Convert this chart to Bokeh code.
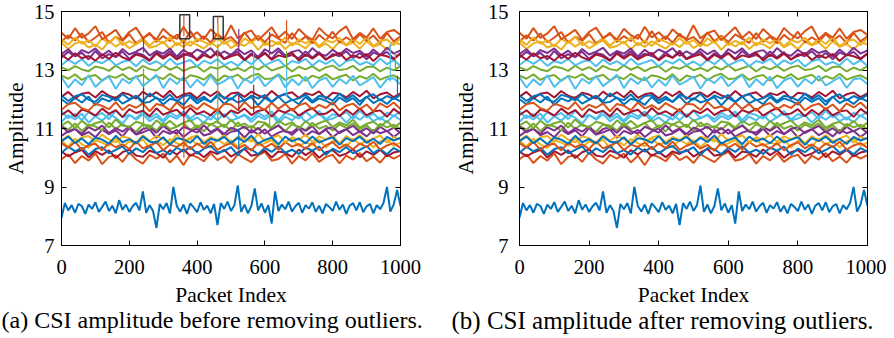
import numpy as np
from bokeh.plotting import figure
from bokeh.models import Range1d, FixedTicker, LinearAxis, Title, ColumnDataSource
from bokeh.layouts import row
from bokeh.embed import file_html
from bokeh.resources import INLINE

FONT = "Liberation Serif"

packet_ticks = [0, 200, 400, 600, 800, 1000]
amp_ticks = [7, 9, 11, 13, 15]
colors = ["#0072BD", "#D95319", "#EDB120", "#7E2F8E", "#77AC30", "#4DBEEE", "#A2142F"]

# mean amplitude of each of the 30 subcarriers
levels = [8.30, 10.00, 10.50, 10.85, 11.05, 11.35, 10.15, 10.25, 10.40, 10.65,
          10.95, 11.15, 11.45, 11.55, 11.95, 11.75, 13.85, 13.50, 12.75, 12.60,
          12.15, 12.05, 14.05, 13.95, 13.60, 13.05, 13.25, 13.45, 10.60, 14.15]

# deviations from the mean (hundredths), sampled evenly over packets 0..1000
s01 = [-35, 15, -10, 8, -18, 12, 5, -22, 10, -5,
       18, -15, 2, 20, -12, 6, -20, 25, -8, 10,
       -15, 4, 16, -10, 55, -18, 8, -12, -70, 12,
       -6, 15, -20, 70, 5, -14, 10, -22, 14, 0,
       -16, 18, -8, 6, -20, 12, -60, 15, -5, 20,
       -12, 8, 75, -15, 10, -20, 5, 65, -10, 14,
       -18, 8, -55, 55, -12, 10, -6, 20, -14, 4,
       16, -18, 8, -4, 18, -15, 6, -20, 12, 2,
       -12, 20, -8, 10, -22, 6, 15, -10, 18, -16,
       4, 12, -20, 8, -6, 16, 70, -14, 10, 60,
       5]
s02 = [-5, 12, -18, 6, -10, 15, -22, 3, 9, -14, 18, -6, -20, 10, -3, 14, -16, 7, -25, 11, 2, -12, 16, -8, 5, -18, 12, -2, -15, 8, 20, -10, -4, 13, -20, 6, -9, 15, -14, 3, 10, -19, 7, -6, 16, -12, 4, -17, 11, -3, 9]
s03 = [8, -12, 15, -4, -16, 10, 2, -9, 18, -14, 6, -2, 13, -18, 9, -7, 14, 0, -11, 17, -6, 4, -15, 12, -3, 10, -13, 7, 16, -8, -1, 11, -17, 5, 14, -10, 3, -6, 12, -15, 8, 1, -12, 15, -5, 9, -14, 6, 13, -9, 2]
s04 = [-10, 6, 14, -8, 3, -15, 11, -4, 9, -12, 16, -6, 2, 12, -17, 7, -3, 10, -14, 5, 15, -9, -2, 13, -11, 4, 8, -16, 10, -5, 12, -13, 1, 9, -7, 14, -10, 6, -4, 11, -15, 3, 13, -8, 5, -12, 10, -1, 7, -14, 4]
s05 = [4, -9, 12, -14, 8, 2, -11, 15, -6, 10, -3, -16, 9, 5, -12, 13, -7, 1, 14, -10, 6, -15, 11, -2, 8, -13, 16, -5, 3, -9, 12, -8, 7, -14, 10, 0, -11, 15, -6, 4, -12, 9, -3, 13, -10, 6, -16, 11, -1, 8, -7]
s06 = [-12, 10, -4, 16, -15, 7, -8, 13, 2, -18, 11, -5, 14, -10, 6, -14, 9, -2, 17, -11, 3, -16, 12, -6, 15, -9, 1, 10, -13, 8, -4, 14, -17, 6, -7, 12, -12, 4, 16, -8, -1, 11, -15, 9, -5, 13, -10, 3, -14, 10, -6]
s07 = [6, -10, 3, 12, -14, 8, -5, 10, -16, 4, 13, -7, -12, 9, 1, -15, 11, -4, 14, -9, 5, -13, 7, -2, 12, -11, 3, 15, -8, -3, 10, -14, 6, 2, -12, 13, -6, 9, -15, 4, 11, -9, -1, 14, -13, 7, -5, 12, -10, 3, 8]
s08 = [-8, 13, -3, 9, -15, 5, 11, -10, 2, 14, -12, 7, -6, 16, -9, 1, -14, 10, -4, 12, -11, 6, 15, -7, -2, 11, -16, 8, 4, -13, 9, -5, 14, -8, 3, -12, 10, -1, 13, -15, 6, -6, 12, -10, 2, 15, -9, 5, -13, 8, -4]
s09 = [10, -6, 14, -12, 3, 8, -15, 11, -4, 6, -10, 16, -8, 2, 13, -14, 5, -3, 12, -11, 9, -7, 15, -13, 1, 10, -9, 4, -16, 12, -5, 8, -12, 14, -2, 7, -10, 11, -15, 3, 13, -8, 6, -11, 9, -4, 15, -12, 2, 10, -6]
s10 = [-6, 11, -13, 5, 9, -10, 14, -3, -12, 8, 2, -16, 12, -7, 10, -1, -14, 15, -9, 4, 11, -12, 6, -5, 13, -15, 7, 0, -10, 16, -8, 3, 12, -13, 5, -4, 14, -11, 8, -2, 10, -16, 9, -6, 13, -9, 1, 11, -14, 6, -3]
s11 = [12, -8, 4, -13, 10, -2, 15, -11, 6, -6, 13, -15, 3, 9, -10, 14, -4, -12, 11, 1, -9, 16, -7, 5, -14, 8, -1, 12, -10, 7, -13, 3, 15, -6, -9, 10, -3, 13, -14, 4, 9, -11, 2, 14, -8, 6, -12, 11, -5, 8, -10]
s12 = [-4, 9, -14, 12, -7, 3, 10, -12, 16, -5, -10, 8, 1, -15, 13, -6, 11, -9, 4, 14, -13, 6, -2, 10, -11, 15, -8, 2, -14, 9, 5, -12, 12, -3, 7, -16, 10, -7, 3, 13, -10, 6, -4, 15, -12, 1, 8, -9, 11, -13, 5]
s13 = [14, -10, 5, -16, 11, -3, 8, -13, 17, -7, 2, -12, 15, -9, 6, -18, 10, -4, 13, -11, 7, -1, -15, 12, -6, 16, -10, 3, -13, 9, -5, 14, -17, 8, 1, -11, 12, -8, 15, -14, 4, -2, 11, -12, 16, -7, 6, -15, 9, -3, 13]
s14 = [-9, 7, -14, 10, 3, -11, 13, -5, 8, -16, 11, -2, 6, -13, 14, -8, 2, 9, -12, 15, -6, 4, -10, 12, -15, 7, -3, 13, -9, 5, 10, -14, 8, -1, 12, -11, 4, 15, -7, -4, 11, -13, 9, -8, 14, -10, 3, 7, -15, 12, -5]
s15 = [5, -12, 10, -6, 14, -15, 8, -2, 12, -10, 3, 16, -8, -4, 11, -13, 7, 1, -14, 13, -9, 6, -3, 15, -11, 9, -6, 2, 12, -16, 10, -5, 14, -9, 4, -12, 13, -7, 8, 0, -13, 11, -4, 9, -15, 14, -8, 5, -11, 10, -2]
s16 = [-11, 8, 13, -6, -14, 10, 2, -9, 15, -12, 6, -4, 11, -16, 9, 3, -13, 14, -7, 5, -10, 12, -2, -15, 10, 7, -12, 16, -6, 1, -11, 13, -8, 9, -14, 4, 12, -10, 6, -5, 15, -13, 3, 10, -9, 7, -16, 11, -3, 14, -8]
s17 = [9, -13, 6, 12, -8, 2, -15, 14, -5, 10, -11, 4, 16, -9, -3, 12, -14, 8, -6, 13, 1, -12, 10, -7, 15, -10, 5, -2, 14, -16, 9, -4, 11, -13, 7, 3, -11, 15, -8, 6, -14, 12, -1, 9, -12, 13, -6, 4, -15, 10, 2]
s18 = [-7, 12, -3, 9, -14, 15, -10, 4, -6, 13, -12, 8, 2, -16, 11, -5, 14, -9, 6, -2, -13, 10, -8, 16, -11, 3, 12, -14, 7, -4, 9, -12, 15, -6, 1, -10, 13, -7, 11, -15, 5, -3, 14, -9, 8, -13, 10, -1, 12, -11, 6]
s19 = [6, -5, 10, -9, 3, 8, -12, 5, -2, 11, -7, 1, 9, -11, 4, -6, 12, -3, -10, 7, 2, -8, 11, -13, 6, -1, 9, -10, 5, 12, -6, -4, 10, -9, 3, 8, -12, 6, -3, 11, -7, 2, 9, -11, 4, -5, 12, -8, 1, 7, -6]
s20 = [15, -20, 8, -12, 22, -18, 5, 18, -25, 10, -6, 20, -15, 3, 24, -22, 12, -8, 16, -20, 7, -14, 21, -10, 2, 18, -24, 11, -5, 19, -16, 6, 23, -19, 9, -12, 17, -22, 4, 14, -18, 10, -7, 20, -13, 1, 16, -21, 8, 12, -9]
s21 = [-6, 10, -12, 4, 8, -9, 13, -3, -11, 7, 1, -13, 11, -5, 9, -8, 14, -10, 2, 6, -12, 10, -4, 12, -14, 5, 8, -7, 11, -2, -10, 13, -6, 3, 9, -11, 6, -1, 12, -13, 7, 4, -9, 10, -5, 14, -12, 2, 8, -8, 5]
s22 = [8, -11, 5, 12, -7, -14, 10, 3, -9, 13, -5, 7, -12, 15, -2, -8, 11, -13, 6, 9, -10, 4, -15, 12, 1, -6, 14, -11, 8, -3, 10, -14, 5, 13, -8, -2, 11, -12, 7, 2, -10, 14, -6, 9, -13, 3, 12, -9, 6, -4, 10]
s23 = [-8, 14, -4, 20, -10, 6, 25, -12, 9, -5, 18, -14, 3, 22, -9, 11, -6, 16, -13, 28, -7, 10, -11, 19, -3, 8, -15, 24, -6, 12, -10, 17, 2, -12, 21, -8, 9, -14, 15, -4, 26, -11, 7, -9, 18, -5, 13, -13, 22, -7, 10]
s24 = [10, -9, 16, -5, 7, -14, 12, -3, 19, -10, 4, -8, 15, -12, 9, -4, 17, -11, 6, -13, 11, 1, -9, 14, -6, 8, -15, 13, -2, 18, -10, 5, -7, 16, -12, 10, -4, 12, -14, 7, -1, 15, -9, 11, -6, 17, -13, 3, 9, -10, 14]
s25 = [-5, 11, -13, 8, -2, 14, -10, 6, -15, 12, -7, 3, 16, -11, 5, -4, 13, -14, 9, -8, 10, -1, 15, -12, 4, -9, 12, -6, 7, -16, 11, -3, 14, -10, 2, 8, -13, 15, -5, -11, 9, -7, 13, -2, 6, -14, 10, -9, 16, -4, 7]
s26 = [4, -6, 8, -3, -9, 7, 2, -8, 10, -5, 5, -10, 9, -2, -7, 11, -4, 6, -9, 3, 8, -11, 5, -1, 10, -6, 2, -9, 7, -4, 11, -7, 1, 9, -10, 6, -3, 8, -8, 4, 10, -5, -2, 9, -9, 5, 7, -10, 3, -6, 8]
s27 = [-8, 10, -4, 12, -11, 6, -2, 13, -9, 3, 8, -12, 11, -6, 5, -10, 14, -7, 1, 9, -13, 7, -3, 12, -8, 4, -11, 10, -5, 15, -9, 2, 11, -12, 6, -1, 13, -10, 8, -4, 10, -13, 5, 12, -7, 3, -9, 14, -6, 9, -11]
s28 = [7, -10, 12, -5, 3, -13, 9, -7, 14, -2, -11, 8, 1, -14, 11, -6, 10, -9, 4, 13, -12, 6, -3, 15, -8, 2, 9, -12, 7, -5, 12, -10, 5, -1, 14, -13, 8, -6, 11, -9, 3, 13, -11, 6, -4, 10, -14, 7, 2, -8, 12]
s29 = [-3, 12, -10, 6, -14, 9, 2, -12, 15, -7, 4, -11, 13, -5, -8, 10, -15, 7, 3, -9, 14, -13, 5, -2, 11, -10, 8, -6, 16, -12, 1, 9, -14, 12, -4, 6, -11, 13, -8, 2, 10, -16, 7, -3, 12, -9, 5, -13, 11, -1, 8]
s30 = [12, -8, 28, -5, 10, 35, -10, 6, 22, -12, 15, 30, -6, 8, -11, 26, 4, -9, 33, -4, 14, -10, 24, 2, -8, 38, -7, 11, 20, -13, 9, 31, -5, 16, -9, 25, 3, -12, 29, 6, -7, 18, 34, -10, 12, -4, 27, -8, 15, 22, 5]

noise = [s01, s02, s03, s04, s05, s06, s07, s08, s09, s10,
         s11, s12, s13, s14, s15, s16, s17, s18, s19, s20,
         s21, s22, s23, s24, s25, s26, s27, s28, s29, s30]

# outlier samples present only before removal (subcarrier number, packet, amplitude)
out_series = [26, 25, 14, 30, 21, 28, 2, 30, 24, 12, 25, 21, 8, 20, 14, 18, 5, 23, 27, 26, 20, 22, 26]
out_packet = [242, 242, 242, 361, 361, 361, 361, 461, 461, 461, 523, 523, 523, 567, 567, 614, 614, 664, 664, 664, 970, 991, 985]
out_value = [11.0, 14.1, 12.4, 14.86, 14.0, 11.0, 11.2, 14.8, 14.6, 13.9, 14.4, 11.6, 11.0, 13.6, 12.5, 14.3, 11.8, 14.7, 12.1, 13.65, 13.9, 12.8, 13.6]

# highlight boxes around two outliers in panel (a)
box_left = [349, 448]
box_right = [378, 477]
box_bottom = [14.07, 14.07]
box_top = [14.89, 14.83]

H = 336
FRAME_H = 236


def make_panel(width, left, right, top, ytick_standoff, ylab_standoff,
               caption, cap_offset, cap_size):
    p = figure(width=width, height=H, x_range=Range1d(0, 1000), y_range=Range1d(7, 15),
               output_backend="svg", toolbar_location=None,
               min_border_left=left, min_border_right=right,
               min_border_top=top, min_border_bottom=H - top - FRAME_H)
    p.grid.visible = False
    p.outline_line_color = "black"
    p.outline_line_width = 1
    p.background_fill_color = "white"
    p.border_fill_color = "white"
    xa = p.xaxis[0]
    ya = p.yaxis[0]
    xa.ticker = FixedTicker(ticks=packet_ticks)
    ya.ticker = FixedTicker(ticks=amp_ticks)
    for ax in (xa, ya):
        ax.major_tick_in = 5
        ax.major_tick_out = 0
        ax.minor_tick_line_color = None
        ax.axis_line_color = "black"
        ax.major_tick_line_color = "black"
        ax.major_label_text_font = FONT
        ax.major_label_text_font_size = "20.5px"
        ax.major_label_text_color = "black"
        ax.axis_label_text_font = FONT
        ax.axis_label_text_font_size = "21.5px"
        ax.axis_label_text_font_style = "normal"
        ax.axis_label_text_color = "black"
    xa.axis_label = "Packet Index"
    ya.axis_label = "Amplitude"
    xa.major_label_standoff = 14
    xa.axis_label_standoff = 6
    ya.major_label_standoff = ytick_standoff
    ya.axis_label_standoff = ylab_standoff
    top_ax = LinearAxis(ticker=FixedTicker(ticks=packet_ticks), major_tick_in=5, major_tick_out=0,
                        minor_tick_line_color=None, major_label_text_font_size="1px",
                        major_label_text_color=None, major_label_standoff=0,
                        axis_line_color="black")
    right_ax = LinearAxis(ticker=FixedTicker(ticks=amp_ticks), major_tick_in=5, major_tick_out=0,
                          minor_tick_line_color=None, major_label_text_font_size="1px",
                          major_label_text_color=None, major_label_standoff=0,
                          axis_line_color="black")
    p.add_layout(top_ax, "above")
    p.add_layout(right_ax, "right")

    cap = Title(text=caption, align="left", offset=cap_offset, standoff=-10,
                text_font=FONT, text_font_size=cap_size, text_font_style="normal",
                text_color="black")
    p.add_layout(cap, "below")

    for i, dev in enumerate(noise):
        x = np.linspace(0, 1000, len(dev))
        y = levels[i] + np.array(dev) / 100.0
        p.line(x, y, line_color=colors[i % 7], line_width=2.0)
    return p


pa = make_panel(450, 61, 50, 11, 7, 3,
                "(a) CSI amplitude before removing outliers.", -60, "24px")
pb = make_panel(436, 67, 19, 9, 11, 7,
                "(b) CSI amplitude after removing outliers.", -68, "25px")

# outliers only in panel (a)
src = ColumnDataSource(dict(
    x=out_packet,
    y0=[levels[s - 1] for s in out_series],
    y1=out_value,
    c=[colors[(s - 1) % 7] for s in out_series],
))
pa.segment(x0="x", y0="y0", x1="x", y1="y1", line_color="c", line_width=1.2, source=src)
pa.quad(left=box_left, right=box_right, bottom=box_bottom, top=box_top,
        fill_color=None, line_color="#333333", line_width=1.5)

layout = row(pa, pb)

open("out.html", "w").write(file_html(layout, INLINE))
